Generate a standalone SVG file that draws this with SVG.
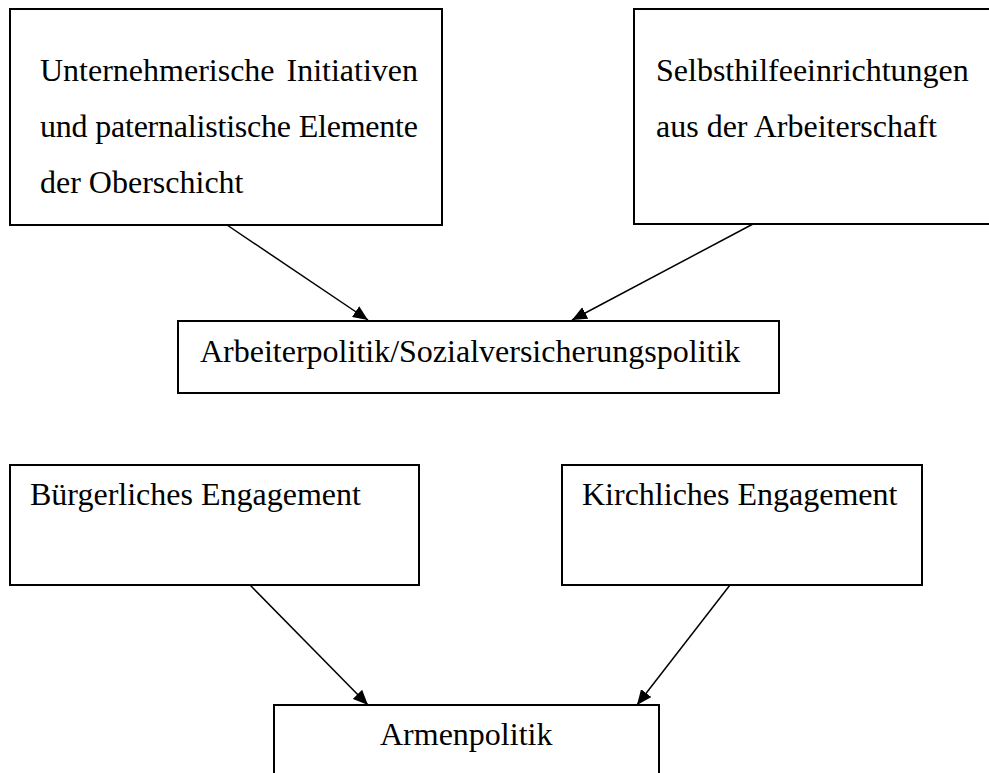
<svg xmlns="http://www.w3.org/2000/svg" width="989" height="773" viewBox="0 0 989 773">
<defs>
<style>
.box{fill:#fff;stroke:#000;stroke-width:2}
.t{font-family:"Liberation Serif","Times New Roman",serif;font-size:32px;fill:#000}
.c{stroke:#000;stroke-width:1.5;fill:none}
</style>
<marker id="ah" markerUnits="userSpaceOnUse" markerWidth="16" markerHeight="13" refX="15" refY="6.5" orient="auto">
<path d="M0,0 L15,6.5 L0,13 z" fill="#000"/>
</marker>
</defs>
<rect width="989" height="773" fill="#fff"/>
<g id="n-unternehmer">
<rect class="box" x="10" y="9" width="432" height="216"/>
<text class="t" x="40" y="81">Unternehmerische</text>
<text class="t" x="418" y="81" text-anchor="end">Initiativen</text>
<text class="t" x="40" y="137" textLength="378" lengthAdjust="spacing">und paternalistische Elemente</text>
<text class="t" x="40" y="193">der Oberschicht</text>
</g>
<g id="n-selbsthilfe">
<rect class="box" x="634" y="9" width="420" height="215"/>
<text class="t" x="656" y="81">Selbsthilfeeinrichtungen</text>
<text class="t" x="656" y="137">aus der Arbeiterschaft</text>
</g>
<g id="n-arbeiterpolitik">
<rect class="box" x="178" y="321" width="601" height="72"/>
<text class="t" x="200" y="362">Arbeiterpolitik/Sozialversicherungspolitik</text>
</g>
<g id="n-buergerlich">
<rect class="box" x="10" y="465" width="409" height="120"/>
<text class="t" x="30" y="505">Bürgerliches Engagement</text>
</g>
<g id="n-kirchlich">
<rect class="box" x="562" y="465" width="360" height="120"/>
<text class="t" x="582" y="505">Kirchliches Engagement</text>
</g>
<g id="n-armenpolitik">
<rect class="box" x="274" y="705" width="385" height="120"/>
<text class="t" x="380" y="745">Armenpolitik</text>
</g>
<g id="connectors">
<line class="c" x1="227" y1="225" x2="368" y2="320" marker-end="url(#ah)"/>
<line class="c" x1="753" y1="224" x2="572" y2="320" marker-end="url(#ah)"/>
<line class="c" x1="250" y1="585" x2="368" y2="705" marker-end="url(#ah)"/>
<line class="c" x1="730" y1="585" x2="637" y2="705" marker-end="url(#ah)"/>
</g>
</svg>
